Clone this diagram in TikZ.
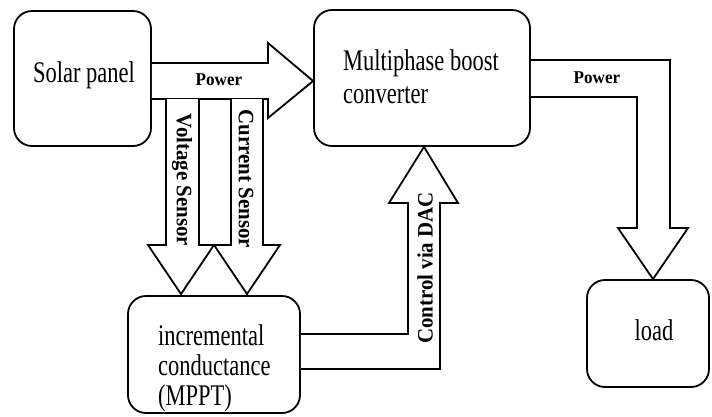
\documentclass[tikz,border=0pt]{standalone}
\usepackage{fontspec}
\newfontfamily\bodyfont{Liberation Serif}[FakeStretch=0.75]
\newfontfamily\labfont{Liberation Serif}[FakeStretch=0.95]
\begin{document}
\begin{tikzpicture}[x=1pt,y=-1pt,
  blk/.style={draw=black, line width=1.8pt, rounded corners=18pt, inner sep=0pt},
  barrow/.style={draw=black, line width=1.8pt, line join=miter, fill=white},
  bodytxt/.style={font=\bodyfont\fontsize{30}{33}\selectfont, inner sep=0pt},
  labtxt/.style={font=\labfont\bfseries\fontsize{18}{20}\selectfont, inner sep=0pt},
  rlabtxt/.style={font=\labfont\bfseries\fontsize{22}{24}\selectfont, inner sep=0pt}]
\useasboundingbox (0,0) rectangle (712,416);
\fill[white] (0,0) rectangle (712,416);

% blocks
\node[blk, minimum width=137pt, minimum height=135pt] (solar) at (82.5,78.5) {};
\node[blk, minimum width=216pt, minimum height=136pt] (conv) at (422,78) {};
\node[blk, minimum width=172pt, minimum height=117pt] (mppt) at (214,354.5) {};
\node[blk, minimum width=122pt, minimum height=107pt] (load) at (648,333.5) {};

% power arrow solar -> converter
\draw[barrow] (solar.east |- 0,63) -- (268,63) -- (268,43) -- (conv.west |- 0,81)
  -- (268,118) -- (268,99) -- (solar.east |- 0,99);
% sensor arrows
\draw[barrow] (166,99) -- (166,245) -- (148,245) -- (181,294) -- (214,245) -- (199,245) -- (199,99);
\draw[barrow] (231,99) -- (231,245) -- (214,245) -- (247,294) -- (280,245) -- (263,245) -- (263,99);
% control arrow mppt -> converter
\draw[barrow] (mppt.east |- 0,334) -- (408,334) -- (408,203) -- (389,203) -- (424,0 |- conv.south)
  -- (458,203) -- (440,203) -- (440,369) -- (mppt.east |- 0,369);
% output power arrow converter -> load
\draw[barrow] (conv.east |- 0,60) -- (670,60) -- (670,228) -- (688,228) -- (653,0 |- load.north)
  -- (618,228) -- (637,228) -- (637,97) -- (conv.east |- 0,97);

% texts
\node[bodytxt, anchor=base] (tsolar) at (84,82) {Solar panel};
\node[bodytxt, anchor=base west] (tconv1) at (343,70) {Multiphase boost};
\node[bodytxt, anchor=base west] (tconv2) at (343,103) {converter};
\node[bodytxt, anchor=base west] (tm1) at (158,345) {incremental};
\node[bodytxt, anchor=base west] (tm2) at (158,375) {conductance};
\node[bodytxt, anchor=base west] (tm3) at (158,405) {(MPPT)};
\node[bodytxt, anchor=base] (tload) at (654,340) {load};

\node[labtxt] (p1) at (219,80) {Power};
\node[labtxt] (p2) at (597,78) {Power};
\node[rlabtxt, rotate=-90] (vs) at (182,180) {Voltage Sensor};
\node[rlabtxt, rotate=-90] (cs) at (246,179) {Current Sensor};
\node[rlabtxt, rotate=90] (cd) at (425,268) {Control via DAC};
\end{tikzpicture}
\end{document}
